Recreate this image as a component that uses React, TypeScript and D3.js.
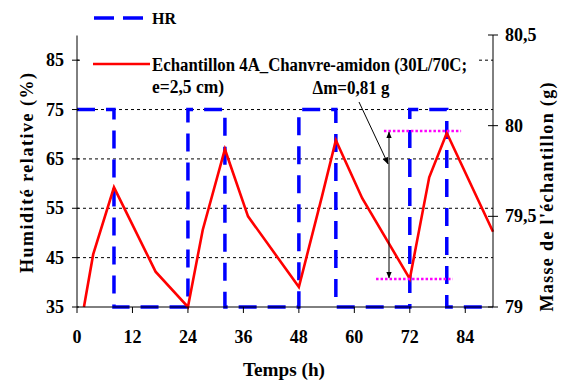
import React from "react";
import * as d3 from "d3";

const hrTimes = [0, 8, 8, 24, 24, 32, 32, 48, 48, 56, 56, 72, 72, 80, 80, 90];
const hrValues = [75, 75, 35, 35, 75, 75, 35, 35, 75, 75, 35, 35, 75, 75, 35, 35];

const massTimes = [1.5, 3.5, 8, 17, 24, 27.2, 32, 37, 48, 53, 56, 61.7, 72, 76.2, 80, 90];
const massValues = [79.0, 79.29, 79.66, 79.195, 79.0, 79.425, 79.87, 79.5, 79.11, 79.61, 79.92, 79.6, 79.155, 79.715, 79.96, 79.415];

const xTicks = [0, 12, 24, 36, 48, 60, 72, 84];
const leftTicks = [35, 45, 55, 65, 75, 85];
const gridValues = [45, 55, 65, 75, 85];
const rightTicks = [79, 79.5, 80, 80.5];
const rightTickLabels = ["79", "79,5", "80", "80,5"];

const upperRef = { value: 79.97, t0: 66.4, t1: 83.1 };
const lowerRef = { value: 79.155, t0: 64.7, t1: 81.3 };
const arrowTime = 67.5;
const deltaLabel = "\u0394m=0,81 g";

const FONT = "'Liberation Serif', 'Times New Roman', serif";

export default function App() {
  const x = d3.scaleLinear().domain([0, 90]).range([77, 493]);
  const yL = d3.scaleLinear().domain([35, 90]).range([307, 35.5]);
  const yR = d3.scaleLinear().domain([79, 80.5]).range([307, 35]);

  const hrLine = d3
    .line<number>()
    .x((_, i) => x(hrTimes[i]))
    .y((v) => yL(v));
  const massLine = d3
    .line<number>()
    .x((_, i) => x(massTimes[i]))
    .y((v) => yR(v));

  const arrowX = x(arrowTime);

  return (
    <svg
      width={566}
      height={382}
      style={{ position: "absolute", left: 0, top: 0, background: "#fff" }}
      fontFamily={FONT}
      fontWeight="bold"
    >
      <defs>
        <marker id="ah" viewBox="0 0 10 10" refX="9" refY="5" markerWidth="7" markerHeight="7" orient="auto-start-reverse" markerUnits="userSpaceOnUse">
          <path d="M0,1 L10,5 L0,9 z" fill="#000" />
        </marker>
      </defs>
      <rect x={0} y={0} width={566} height={382} fill="#fff" />

      {/* gridlines */}
      {gridValues.map((v) => (
        <line key={v} x1={77} x2={493} y1={yL(v)} y2={yL(v)} stroke="#000" strokeWidth={1} strokeDasharray="3,3" />
      ))}

      {/* legend background */}
      <rect x={80} y={0} width={396} height={100} fill="#fff" />

      {/* HR series */}
      <path d={hrLine(hrValues) || ""} fill="none" stroke="#0000FF" strokeWidth={3.5} strokeDasharray="18,11" />

      {/* Mass series */}
      <path d={massLine(massValues) || ""} fill="none" stroke="#FF0000" strokeWidth={2.6} strokeLinejoin="miter" />

      {/* magenta reference lines */}
      <line x1={x(upperRef.t0)} x2={x(upperRef.t1)} y1={yR(upperRef.value)} y2={yR(upperRef.value)} stroke="#FF00FF" strokeWidth={2.5} strokeDasharray="2.5,2" />
      <line x1={x(lowerRef.t0)} x2={x(lowerRef.t1)} y1={yR(lowerRef.value)} y2={yR(lowerRef.value)} stroke="#FF00FF" strokeWidth={2.5} strokeDasharray="2.5,2" />

      {/* double arrow */}
      <line x1={arrowX} x2={arrowX} y1={yR(upperRef.value) + 1} y2={yR(lowerRef.value) - 1} stroke="#000" strokeWidth={1} markerStart="url(#ah)" markerEnd="url(#ah)" />
      {/* leader */}
      <line x1={359} y1={102} x2={arrowX - 1} y2={yR(79.79)} stroke="#000" strokeWidth={1} markerEnd="url(#ah)" />
      <text x={351} y={94} fontSize={18} textAnchor="middle" textLength={77} lengthAdjust="spacingAndGlyphs">{deltaLabel}</text>

      {/* left axis */}
      <line x1={77} x2={77} y1={35.5} y2={307} stroke="#000" strokeWidth={1} />
      {leftTicks.map((v) => (
        <g key={v}>
          <line x1={72} x2={79} y1={yL(v)} y2={yL(v)} stroke="#000" strokeWidth={1} />
          <text x={64} y={yL(v) + 6} fontSize={18} textAnchor="end">{v}</text>
        </g>
      ))}

      {/* right axis */}
      <line x1={493} x2={493} y1={35} y2={307} stroke="#000" strokeWidth={1} />
      {rightTicks.map((v, i) => (
        <g key={v}>
          <line x1={488} x2={498} y1={yR(v)} y2={yR(v)} stroke="#000" strokeWidth={1} />
          <text x={505} y={yR(v) + 6} fontSize={18} textAnchor="start">{rightTickLabels[i]}</text>
        </g>
      ))}

      {/* bottom axis */}
      <line x1={77} x2={493} y1={307} y2={307} stroke="#000" strokeWidth={1} />
      {xTicks.map((v) => (
        <g key={v}>
          <line x1={x(v)} x2={x(v)} y1={307} y2={313} stroke="#000" strokeWidth={1} />
          <text x={x(v)} y={343} fontSize={18} textAnchor="middle">{v}</text>
        </g>
      ))}

      {/* axis titles */}
      <text x={284} y={376} fontSize={18} textAnchor="middle" textLength={82} lengthAdjust="spacingAndGlyphs">Temps (h)</text>
      <text transform="translate(33,173) rotate(-90)" fontSize={18} textAnchor="middle" textLength={200} lengthAdjust="spacing">Humidité relative (%)</text>
      <text transform="translate(553,197) rotate(-90)" fontSize={18} textAnchor="middle" textLength={229} lengthAdjust="spacing">Masse de l'échantillon (g)</text>

      {/* legend */}
      <line x1={94} x2={143} y1={18} y2={18} stroke="#0000FF" strokeWidth={3.5} strokeDasharray="20,9" />
      <text x={152} y={24} fontSize={16}>HR</text>
      <line x1={93} x2={150} y1={64} y2={64} stroke="#FF0000" strokeWidth={2.6} />
      <text x={152} y={71} fontSize={18} textLength={315} lengthAdjust="spacingAndGlyphs">Echantillon 4A_Chanvre-amidon (30L/70C;</text>
      <text x={152} y={93} fontSize={18} textLength={72} lengthAdjust="spacingAndGlyphs">e=2,5 cm)</text>
    </svg>
  );
}
